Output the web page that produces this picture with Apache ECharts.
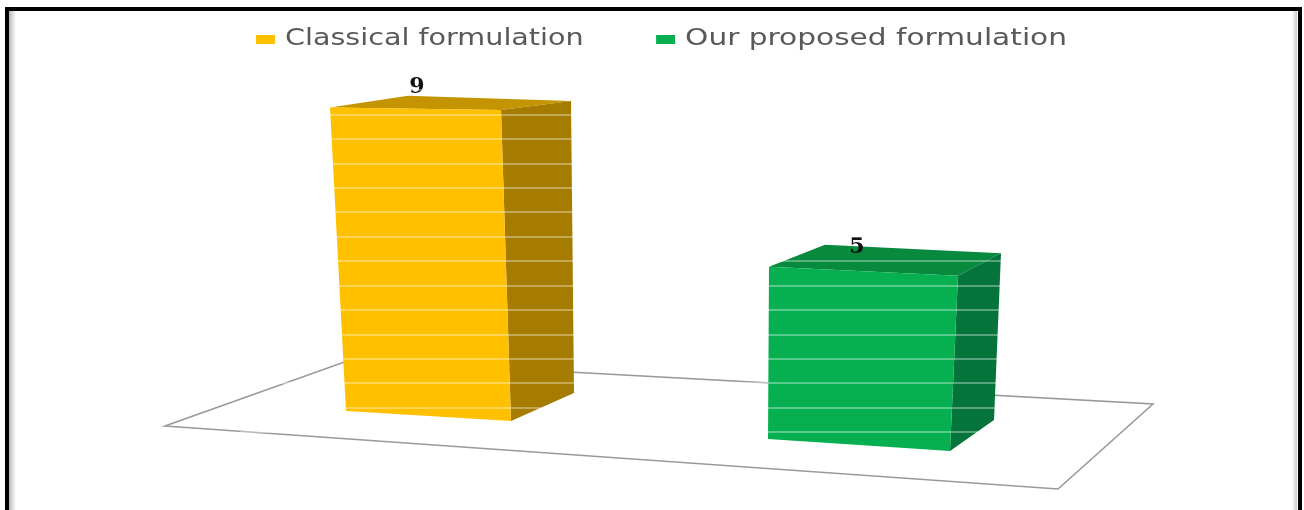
<!DOCTYPE html>
<html><head><meta charset="utf-8">
<style>html,body{margin:0;padding:0;background:#fff}#c{width:1304px;height:510px}</style>
<script src="https://cdn.jsdelivr.net/npm/echarts@6/dist/echarts.min.js"></script>
</head><body><div id="c"></div>
<script>
const categories = ['Classical formulation', 'Our proposed formulation'];
const classicalValues = [9, null];
const proposedValues = [null, 5];
const tickInterval = 0.7;

// Hand-fitted oblique view of each box, relative to the category centre and zero line.
// b = base offset, tx = top x offset, k = height factor for that corner.
const views = [
  { fl:{b:[-104,-21],tx:-120,k:.966}, fr:{b:[61,-11],tx:51,k:.99}, br:{b:[124,-39],tx:121,k:.93}, bl:{b:[-35,-52],tx:-42,k:.905}, label:[-33,-345] },
  { fl:{b:[-102,7],tx:-101,k:.987}, fr:{b:[80,19],tx:88,k:1.004}, br:{b:[124,-12],tx:131,k:.955}, bl:{b:[-40,-18],tx:-45,k:.97}, label:[-13,-185] }
];
const faceColors = [
  { front:'#ffc000', side:'#a67c00', top:'#c49500' },
  { front:'#06b050', side:'#04743a', top:'#078a3e' }
];

function box(params, api) {
  const i = api.value(0), v = api.value(1);
  const o = api.coord([i, 0]);
  const h = api.size([0, v])[1];
  const w = views[i], col = faceColors[i];
  const B = c => [o[0] + c.b[0], o[1] + c.b[1]];
  const T = c => [o[0] + c.tx, o[1] + c.b[1] - c.k * h];
  const poly = (pts, fill) => ({ type:'polygon', shape:{points:pts}, style:{fill}, silent:true });
  return { type:'group', children:[
    poly([T(w.fl),T(w.bl),T(w.br),T(w.fr)], col.top),
    poly([T(w.fr),T(w.br),B(w.br),B(w.fr)], col.side),
    poly([T(w.fl),T(w.fr),B(w.fr),B(w.fl)], col.front),
    { type:'text', style:{ text:String(v), x:o[0]+w.label[0], y:o[1]+w.label[1],
        font:'bold 22px "DejaVu Serif"', fill:'#111', align:'center', verticalAlign:'middle' } }
  ]};
}
function series(name, values, color) {
  return { type:'custom', name, coordinateSystem:'cartesian2d', clip:false, z:2,
    itemStyle:{color}, encode:{x:0,y:1}, renderItem:box,
    data: values.map((v,i)=>[i,v]).filter(d=>d[1]!==null) };
}
const chart = echarts.init(document.getElementById('c'), null, {renderer:'canvas'});
chart.setOption({
  animation:false,
  backgroundColor:'#fff',
  legend:{ top:23, left:256, padding:[5,0], itemWidth:19, itemHeight:9, itemGap:136, icon:'rect',
    data:categories, textStyle:{ color:'#595959', fontSize:23, fontFamily:'"DejaVu Sans"' } },
  grid:{ left:240, width:840, top:90, height:342 },
  xAxis:{ type:'category', data:[0,1], show:false },
  yAxis:{ type:'value', min:0, max:9.8, interval:tickInterval, z:6,
    axisLabel:{show:false}, axisLine:{show:false}, axisTick:{show:false},
    splitLine:{show:true, lineStyle:{color:'rgba(255,255,255,0.45)', width:1.5}} },
  graphic:[
    { type:'polygon', z:0, silent:true, shape:{points:[[165,426],[350,360],[1153,404],[1058,489]]},
      style:{fill:'#fff', stroke:'#999', lineWidth:1.6} },
    { type:'rect', z:0, silent:true, shape:{x:9,y:11,width:7,height:499},
      style:{fill:new echarts.graphic.LinearGradient(0,0,1,0,[{offset:0,color:'#b8b8b8'},{offset:1,color:'#ffffff'}])} },
    { type:'rect', z:0, silent:true, shape:{x:1292,y:11,width:5,height:499},
      style:{fill:new echarts.graphic.LinearGradient(0,0,1,0,[{offset:0,color:'#ffffff'},{offset:1,color:'#c8c8c8'}])} },
    { type:'rect', z:0, silent:true, shape:{x:7,y:9,width:1293,height:520},
      style:{fill:'transparent', stroke:'#000', lineWidth:4} }
  ],
  series:[
    series(categories[0], classicalValues, '#ffc000'),
    series(categories[1], proposedValues, '#06b050')
  ]
});
// The source legend text is stretched horizontally: widen the legend's own labels.
const widen = { 'Classical formulation':1.244, 'Our proposed formulation':1.288 };
chart.getZr().storage.getRoots().forEach(root => root.traverse(el => {
  const s = el.style;
  if (s && widen[s.text] && el.type !== 'tspan') {
    el.originX = s.x; el.originY = s.y;
    el.scaleX = widen[s.text];
    el.x = 5; el.y = 0;
    el.dirty();
  }
}));
chart.getZr().flush();
</script></body></html>
